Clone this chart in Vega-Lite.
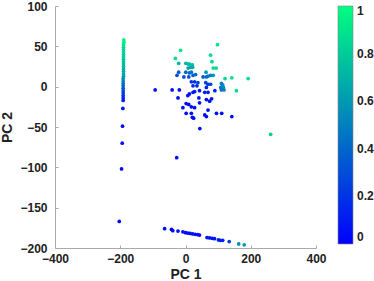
{
  "$schema": "https://vega.github.io/schema/vega-lite/v6.json",
  "width": 374,
  "height": 281,
  "autosize": {"type": "fit", "contains": "padding"},
  "padding": {"left": 0, "top": 0, "right": 0, "bottom": 0},
  "background": "white",
  "config": {
    "view": {"stroke": null},
    "font": "Liberation Sans",
    "axis": {
      "domainColor": "#aaaaaa",
      "tickColor": "#aaaaaa",
      "grid": false,
      "labelFlush": false,
      "labelFontSize": 12,
      "labelFontWeight": "bold",
      "labelColor": "#222222",
      "titleFontSize": 14,
      "titleFontWeight": "bold",
      "titleColor": "#222222",
      "tickSize": -3
    }
  },
  "data": {
    "values": [
      {"pc1": -189, "pc2": 58, "c": 0.95},
      {"pc1": -189, "pc2": 55, "c": 0.93},
      {"pc1": -190, "pc2": 52, "c": 0.9},
      {"pc1": -190, "pc2": 49, "c": 0.88},
      {"pc1": -190, "pc2": 46, "c": 0.86},
      {"pc1": -190, "pc2": 43, "c": 0.84},
      {"pc1": -190, "pc2": 40, "c": 0.82},
      {"pc1": -190, "pc2": 37, "c": 0.8},
      {"pc1": -190, "pc2": 34, "c": 0.78},
      {"pc1": -190, "pc2": 31, "c": 0.76},
      {"pc1": -190, "pc2": 28, "c": 0.74},
      {"pc1": -190, "pc2": 25, "c": 0.72},
      {"pc1": -190, "pc2": 22, "c": 0.7},
      {"pc1": -190, "pc2": 19, "c": 0.68},
      {"pc1": -190, "pc2": 16, "c": 0.66},
      {"pc1": -190, "pc2": 13, "c": 0.62},
      {"pc1": -191, "pc2": 10, "c": 0.55},
      {"pc1": -191, "pc2": 7, "c": 0.5},
      {"pc1": -191, "pc2": 4, "c": 0.45},
      {"pc1": -191, "pc2": 1, "c": 0.4},
      {"pc1": -191, "pc2": -2, "c": 0.35},
      {"pc1": -191, "pc2": -5, "c": 0.3},
      {"pc1": -191, "pc2": -8, "c": 0.25},
      {"pc1": -191, "pc2": -11, "c": 0.2},
      {"pc1": -191, "pc2": -14, "c": 0.15},
      {"pc1": -191, "pc2": -17, "c": 0.12},
      {"pc1": -192, "pc2": -27, "c": 0.08},
      {"pc1": -193, "pc2": -49, "c": 0.05},
      {"pc1": -194, "pc2": -70, "c": 0.05},
      {"pc1": -196, "pc2": -102, "c": 0.04},
      {"pc1": -203, "pc2": -167, "c": 0.03},

      {"pc1": 98, "pc2": 52, "c": 0.92},
      {"pc1": -15, "pc2": 45, "c": 0.9},
      {"pc1": -31, "pc2": 35, "c": 0.85},
      {"pc1": 77, "pc2": 39, "c": 0.88},
      {"pc1": -21, "pc2": 29, "c": 0.72},
      {"pc1": 1, "pc2": 29, "c": 0.72},
      {"pc1": 8, "pc2": 28, "c": 0.7},
      {"pc1": 12, "pc2": 28, "c": 0.72},
      {"pc1": 21, "pc2": 27, "c": 0.75},
      {"pc1": 22, "pc2": 24, "c": 0.68},
      {"pc1": 16, "pc2": 24, "c": 0.66},
      {"pc1": 8, "pc2": 23, "c": 0.64},
      {"pc1": 81, "pc2": 31, "c": 0.86},
      {"pc1": 85, "pc2": 23, "c": 0.84},
      {"pc1": 94, "pc2": 23, "c": 0.86},
      {"pc1": 63, "pc2": 18, "c": 0.6},
      {"pc1": 85, "pc2": 14, "c": 0.62},
      {"pc1": 121, "pc2": 10, "c": 0.85},
      {"pc1": 142, "pc2": 11, "c": 0.88},
      {"pc1": 192, "pc2": 10, "c": 0.88},
      {"pc1": 156, "pc2": -5, "c": 0.85},
      {"pc1": 110, "pc2": 4, "c": 0.5},
      {"pc1": 114, "pc2": 2, "c": 0.5},
      {"pc1": 108, "pc2": -1, "c": 0.48},
      {"pc1": 116, "pc2": -1, "c": 0.52},
      {"pc1": 110, "pc2": -4, "c": 0.45},
      {"pc1": 118, "pc2": -4, "c": 0.5},
      {"pc1": 261, "pc2": -59, "c": 0.82},
      {"pc1": -93, "pc2": -4, "c": 0.05},
      {"pc1": -41, "pc2": -4, "c": 0.05},
      {"pc1": -19, "pc2": -4, "c": 0.05},
      {"pc1": -23, "pc2": -14, "c": 0.05},
      {"pc1": 44, "pc2": -52, "c": 0.05},
      {"pc1": -27, "pc2": -88, "c": 0.05},

      {"pc1": -26, "pc2": 14, "c": 0.3},
      {"pc1": -21, "pc2": 18, "c": 0.35},
      {"pc1": -5, "pc2": 12, "c": 0.3},
      {"pc1": 10, "pc2": 12, "c": 0.3},
      {"pc1": 23, "pc2": 14, "c": 0.35},
      {"pc1": 31, "pc2": 15, "c": 0.4},
      {"pc1": 1, "pc2": 18, "c": 0.4},
      {"pc1": 12, "pc2": 17, "c": 0.45},
      {"pc1": 18, "pc2": 18, "c": 0.45},
      {"pc1": 54, "pc2": 12, "c": 0.35},
      {"pc1": 64, "pc2": 12, "c": 0.4},
      {"pc1": 69, "pc2": 13, "c": 0.45},
      {"pc1": 77, "pc2": 14, "c": 0.5},
      {"pc1": 18, "pc2": 6, "c": 0.2},
      {"pc1": 28, "pc2": 6, "c": 0.2},
      {"pc1": 38, "pc2": 5, "c": 0.25},
      {"pc1": 23, "pc2": 1, "c": 0.15},
      {"pc1": 35, "pc2": 1, "c": 0.15},
      {"pc1": 62, "pc2": 5, "c": 0.25},
      {"pc1": 69, "pc2": 3, "c": 0.2},
      {"pc1": 77, "pc2": 3, "c": 0.25},
      {"pc1": 64, "pc2": -1, "c": 0.15},
      {"pc1": 90, "pc2": -5, "c": 0.12},
      {"pc1": 43, "pc2": -5, "c": 0.1},
      {"pc1": 28, "pc2": -6, "c": 0.1},
      {"pc1": 12, "pc2": -9, "c": 0.08},
      {"pc1": 23, "pc2": -7, "c": 0.08},
      {"pc1": 59, "pc2": -7, "c": 0.1},
      {"pc1": 69, "pc2": -7, "c": 0.1},
      {"pc1": 7, "pc2": -11, "c": 0.06},
      {"pc1": 41, "pc2": -14, "c": 0.06},
      {"pc1": 43, "pc2": -20, "c": 0.06},
      {"pc1": 64, "pc2": -16, "c": 0.06},
      {"pc1": 74, "pc2": -18, "c": 0.06},
      {"pc1": 80, "pc2": -15, "c": 0.07},
      {"pc1": 2, "pc2": -21, "c": 0.05},
      {"pc1": 10, "pc2": -22, "c": 0.05},
      {"pc1": 18, "pc2": -25, "c": 0.05},
      {"pc1": -8, "pc2": -26, "c": 0.05},
      {"pc1": 28, "pc2": -26, "c": 0.05},
      {"pc1": 2, "pc2": -33, "c": 0.05},
      {"pc1": 18, "pc2": -33, "c": 0.05},
      {"pc1": 21, "pc2": -38, "c": 0.05},
      {"pc1": 25, "pc2": -39, "c": 0.05},
      {"pc1": 59, "pc2": -35, "c": 0.05},
      {"pc1": 64, "pc2": -37, "c": 0.05},
      {"pc1": 69, "pc2": -29, "c": 0.05},
      {"pc1": 95, "pc2": -33, "c": 0.05},
      {"pc1": 111, "pc2": -33, "c": 0.05},
      {"pc1": 142, "pc2": -37, "c": 0.05},

      {"pc1": -64, "pc2": -176, "c": 0.04},
      {"pc1": -43, "pc2": -177, "c": 0.04},
      {"pc1": -39, "pc2": -178.5, "c": 0.04},
      {"pc1": -23, "pc2": -179, "c": 0.04},
      {"pc1": -8, "pc2": -180, "c": 0.05},
      {"pc1": 0, "pc2": -181, "c": 0.05},
      {"pc1": 7, "pc2": -181.5, "c": 0.05},
      {"pc1": 14, "pc2": -182, "c": 0.05},
      {"pc1": 22, "pc2": -182.5, "c": 0.05},
      {"pc1": 30, "pc2": -183, "c": 0.06},
      {"pc1": 38, "pc2": -183.5, "c": 0.06},
      {"pc1": 43, "pc2": -184, "c": 0.06},
      {"pc1": 66, "pc2": -187, "c": 0.08},
      {"pc1": 74, "pc2": -187.5, "c": 0.08},
      {"pc1": 82, "pc2": -188, "c": 0.08},
      {"pc1": 89, "pc2": -188.5, "c": 0.09},
      {"pc1": 101, "pc2": -190, "c": 0.1},
      {"pc1": 107, "pc2": -190.5, "c": 0.1},
      {"pc1": 114, "pc2": -190.5, "c": 0.12},
      {"pc1": 134, "pc2": -192, "c": 0.25},
      {"pc1": 163, "pc2": -195, "c": 0.55},
      {"pc1": 180, "pc2": -196, "c": 0.6}
    ]
  },
  "mark": {"type": "circle", "size": 14, "opacity": 1},
  "encoding": {
    "x": {
      "field": "pc1", "type": "quantitative", "title": "PC 1",
      "scale": {"domain": [-400, 400], "nice": false, "zero": false},
      "axis": {"values": [-400, -200, 0, 200, 400], "labelPadding": 8, "titlePadding": 3}
    },
    "y": {
      "field": "pc2", "type": "quantitative", "title": "PC 2",
      "scale": {"domain": [-200, 100], "nice": false, "zero": false},
      "axis": {"values": [-200, -150, -100, -50, 0, 50, 100], "labelPadding": 11, "titlePadding": 5}
    },
    "color": {
      "field": "c", "type": "quantitative", "title": null,
      "scale": {"domain": [0, 1], "range": ["#0000ff", "#00ff80"], "interpolate": "rgb"},
      "legend": {
        "orient": "right",
        "offset": 22,
        "gradientLength": 238,
        "gradientThickness": 15,
        "gradientStrokeColor": "#888888",
        "gradientStrokeWidth": 0.6,
        "values": [0, 0.2, 0.4, 0.6, 0.8, 1],
        "format": "~g",
        "labelFontSize": 12,
        "labelFontWeight": "bold",
        "labelColor": "#222222",
        "labelOffset": 4,
        "labelOverlap": false,
        "padding": 0
      }
    }
  }
}
